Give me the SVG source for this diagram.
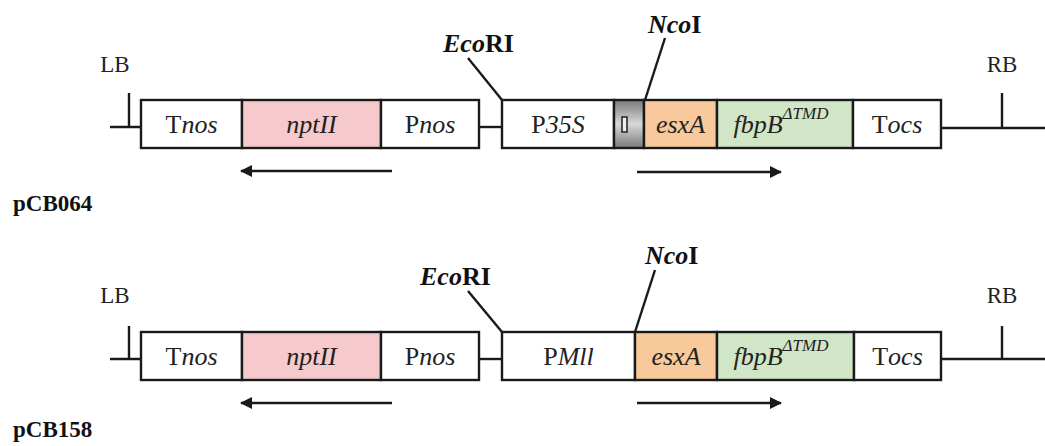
<svg xmlns="http://www.w3.org/2000/svg" width="1045" height="446" viewBox="0 0 1045 446">
<style>
.bx{stroke:#1a1a1a;stroke-width:2.4}
.w{fill:#fff}.pk{fill:#f6cacd}.or{fill:#f8c99b}.gr{fill:#d0e6c6}
.ln{stroke:#1a1a1a;stroke-width:2.4;fill:none}
.ar{stroke:#1a1a1a;stroke-width:2.6;fill:none}
.t{font-family:"Liberation Serif","Times New Roman",serif;font-size:26px;fill:#222;text-anchor:middle}
.i{font-style:italic}
.lb{font-family:"Liberation Serif","Times New Roman",serif;font-size:23px;fill:#222;text-anchor:middle}
.re{font-family:"Liberation Serif","Times New Roman",serif;font-size:26px;font-weight:bold;fill:#111}
.nm{font-family:"Liberation Serif","Times New Roman",serif;font-size:23px;font-weight:bold;fill:#111}
.sup{font-size:17px}
</style>
<defs>
<linearGradient id="gg" x1="0" y1="0" x2="0" y2="1">
<stop offset="0" stop-color="#7a7a7a"/><stop offset="0.5" stop-color="#d8d8d8"/><stop offset="1" stop-color="#7a7a7a"/>
</linearGradient>
<marker id="ah" markerWidth="12" markerHeight="12" refX="11" refY="6" orient="auto" markerUnits="userSpaceOnUse">
<path d="M0,0 L12,6 L0,12 Z" fill="#1a1a1a"/>
</marker>
</defs>
<rect width="1045" height="446" fill="#fff"/>

<g id="connectors">
<!-- row 1 -->
<path class="ln" d="M110,127 H141 M129,93 V127"/>
<path class="ln" d="M479,127 H502"/>
<path class="ln" d="M941,128 H1045 M1002,93 V128"/>
<path class="ln" d="M468,58 L502,100"/>
<path class="ln" d="M665,38 L645,100"/>
<path class="ar" d="M392,171 H241" marker-end="url(#ah)"/>
<path class="ar" d="M637,172 H781" marker-end="url(#ah)"/>
<!-- row 2 -->
<path class="ln" d="M110,359 H141 M129,326 V359"/>
<path class="ln" d="M479,359 H502"/>
<path class="ln" d="M941,359 H1045 M1002,326 V359"/>
<path class="ln" d="M468,291 L502,332"/>
<path class="ln" d="M655,270 L635,332"/>
<path class="ar" d="M392,403 H241" marker-end="url(#ah)"/>
<path class="ar" d="M637,403 H781" marker-end="url(#ah)"/>
</g>

<!-- row 1 labels -->
<g id="r1-LB"><text class="lb" x="115" y="72">LB</text></g>
<g id="r1-RB"><text class="lb" x="1002" y="72">RB</text></g>
<g id="r1-EcoRI"><text class="re" x="443" y="52"><tspan font-style="italic">Eco</tspan>RI</text></g>
<g id="r1-NcoI"><text class="re" x="648" y="33"><tspan font-style="italic">Nco</tspan>I</text></g>

<g id="r1-Tnos"><rect class="bx w" x="141" y="100" width="101" height="48"/><text class="t" x="191.5" y="133">T<tspan class="i">nos</tspan></text></g>
<g id="r1-nptII"><rect class="bx pk" x="242" y="100" width="139" height="48"/><text class="t i" x="311.5" y="133">nptII</text></g>
<g id="r1-Pnos"><rect class="bx w" x="381" y="100" width="98" height="48"/><text class="t" x="430" y="133">P<tspan class="i">nos</tspan></text></g>
<g id="r1-P35S"><rect class="bx w" x="502" y="100" width="112" height="48"/><text class="t" x="558" y="133">P<tspan class="i">35S</tspan></text></g>
<g id="r1-signal"><rect class="bx" fill="url(#gg)" x="614" y="100" width="30" height="48"/><rect x="622" y="117" width="5" height="15" fill="#eee" stroke="#222" stroke-width="1.5"/></g>
<g id="r1-esxA"><rect class="bx or" x="644" y="100" width="73" height="48"/><text class="t i" x="680.5" y="133">esxA</text></g>
<g id="r1-fbpB"><rect class="bx gr" x="717" y="100" width="136" height="48"/><text class="t i" x="781" y="133">fbpB<tspan class="sup" dy="-14">ΔTMD</tspan></text></g>
<g id="r1-Tocs"><rect class="bx w" x="853" y="100" width="88" height="48"/><text class="t" x="897" y="133">T<tspan class="i">ocs</tspan></text></g>
<g id="r1-name"><text class="nm" x="13" y="211">pCB064</text></g>

<!-- row 2 -->
<g id="r2-LB"><text class="lb" x="115" y="303">LB</text></g>
<g id="r2-RB"><text class="lb" x="1002" y="303">RB</text></g>
<g id="r2-EcoRI"><text class="re" x="420" y="285"><tspan font-style="italic">Eco</tspan>RI</text></g>
<g id="r2-NcoI"><text class="re" x="645" y="264"><tspan font-style="italic">Nco</tspan>I</text></g>

<g id="r2-Tnos"><rect class="bx w" x="141" y="332" width="101" height="48"/><text class="t" x="191.5" y="365">T<tspan class="i">nos</tspan></text></g>
<g id="r2-nptII"><rect class="bx pk" x="242" y="332" width="139" height="48"/><text class="t i" x="311.5" y="365">nptII</text></g>
<g id="r2-Pnos"><rect class="bx w" x="381" y="332" width="98" height="48"/><text class="t" x="430" y="365">P<tspan class="i">nos</tspan></text></g>
<g id="r2-PMll"><rect class="bx w" x="502" y="332" width="133" height="48"/><text class="t" x="568.5" y="365">P<tspan class="i">Mll</tspan></text></g>
<g id="r2-esxA"><rect class="bx or" x="635" y="332" width="82" height="48"/><text class="t i" x="676" y="365">esxA</text></g>
<g id="r2-fbpB"><rect class="bx gr" x="717" y="332" width="137" height="48"/><text class="t i" x="781" y="365">fbpB<tspan class="sup" dy="-14">ΔTMD</tspan></text></g>
<g id="r2-Tocs"><rect class="bx w" x="854" y="332" width="87" height="48"/><text class="t" x="897.5" y="365">T<tspan class="i">ocs</tspan></text></g>
<g id="r2-name"><text class="nm" x="13" y="437">pCB158</text></g>
</svg>
